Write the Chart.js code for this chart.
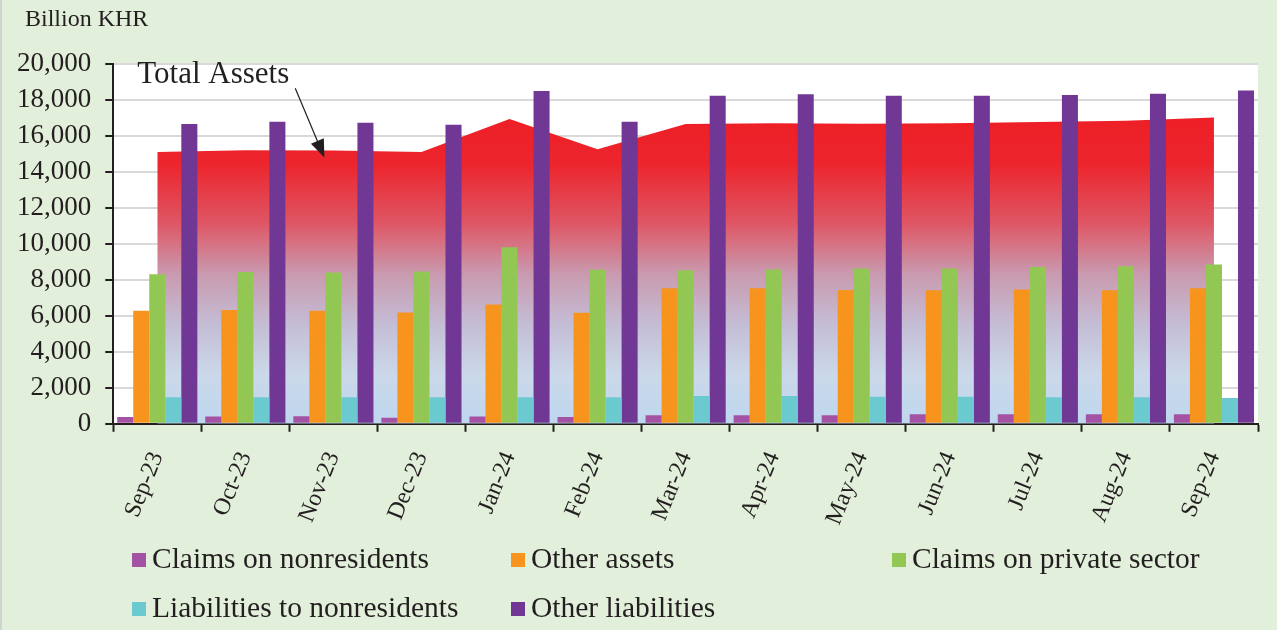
<!DOCTYPE html>
<html lang="en">
<head>
  <meta charset="UTF-8">
  <title>Total Assets and components</title>
  <style>
    body { margin: 0; background: #E2EFDA; font-family: "Liberation Serif", "Times New Roman", serif; }
    #wrap { position: relative; width: 1277px; height: 630px; border-left: 2px solid #D0D4CC; box-sizing: border-box; }
    #unit { position: absolute; left: 23px; top: 5px; font-size: 24px; color: #231F20; }
    #legend { position: absolute; left: 0; top: 538px; width: 1277px; }
    .item { position: absolute; font-size: 29.5px; color: #231F20; white-space: nowrap; line-height: 40px; }
    .item span.box { display: inline-block; width: 14px; height: 14px; margin-right: 6px; vertical-align: 1px; }
  </style>
  <script src="https://cdn.jsdelivr.net/npm/chart.js"></script>
</head>
<body>
<div id="wrap">
  <canvas id="myChart" width="1275" height="630"></canvas>
  <div id="unit">Billion KHR</div>
  <div id="legend"></div>
</div>
<script>
  // months
  const labels = ['Sep-23','Oct-23','Nov-23','Dec-23','Jan-24','Feb-24','Mar-24','Apr-24','May-24','Jun-24','Jul-24','Aug-24','Sep-24'];

  // billion KHR
  const totalAssets      = [15110, 15200, 15190, 15110, 16940, 15260, 16670, 16700, 16680, 16710, 16770, 16840, 17030];
  const claimsNonres     = [380, 400, 420, 330, 400, 380, 480, 480, 480, 530, 530, 530, 530];
  const otherAssets      = [6280, 6320, 6280, 6190, 6630, 6170, 7530, 7530, 7440, 7420, 7470, 7420, 7530];
  const claimsPrivate    = [8310, 8430, 8410, 8460, 9810, 8560, 8540, 8580, 8630, 8630, 8710, 8760, 8860];
  const liabNonres       = [1480, 1480, 1480, 1480, 1480, 1480, 1540, 1540, 1500, 1500, 1480, 1480, 1430];
  const otherLiab        = [16660, 16790, 16730, 16620, 18500, 16790, 18240, 18320, 18240, 18240, 18280, 18350, 18520];

  const yTicks = [0, 2000, 4000, 6000, 8000, 10000, 12000, 14000, 16000, 18000, 20000];

  const font = '"Liberation Serif", "Times New Roman", serif';
  const ctx = document.getElementById('myChart').getContext('2d');

  function areaFill(c) {
    const ch = c.chart;
    const a = ch.chartArea;
    if (!a) return '#EE1F26';
    const y = ch.scales.y;
    const g = ch.ctx.createLinearGradient(0, y.getPixelForValue(17000), 0, a.bottom);
    g.addColorStop(0, '#EE1F26');
    g.addColorStop(0.15, '#EC252D');
    g.addColorStop(0.34, '#DF5563');
    g.addColorStop(0.51, '#C99AAF');
    g.addColorStop(0.67, '#C4BCD4');
    g.addColorStop(0.84, '#CBD8EA');
    g.addColorStop(1, '#BED7EE');
    return g;
  }

  // white plot area
  const plotBg = {
    id: 'plotBg',
    beforeDraw(chart) {
      const a = chart.chartArea;
      chart.ctx.save();
      chart.ctx.fillStyle = '#FFFFFF';
      chart.ctx.fillRect(a.left, a.top, a.right - a.left, a.bottom - a.top);
      chart.ctx.restore();
    }
  };

  // "Total Assets" label with arrow
  const note = {
    id: 'note',
    afterDatasetsDraw(chart) {
      const x = chart.scales.x, y = chart.scales.y, c = chart.ctx;
      const tx = x.left + 24, ty = y.getPixelForValue(19400);
      c.save();
      c.font = '31px ' + font;
      c.fillStyle = '#231F20';
      c.textBaseline = 'middle';
      c.fillText('Total Assets', tx, ty);
      const x0 = tx + 158, y0 = y.getPixelForValue(18650);
      const x1 = (x.getPixelForValue(1) + x.getPixelForValue(2)) / 2 + 35, y1 = y.getPixelForValue(14800);
      const ang = Math.atan2(y1 - y0, x1 - x0);
      c.strokeStyle = '#231F20';
      c.lineWidth = 1.2;
      c.beginPath(); c.moveTo(x0, y0); c.lineTo(x1 - 12 * Math.cos(ang), y1 - 12 * Math.sin(ang)); c.stroke();
      c.beginPath();
      c.moveTo(x1, y1);
      c.lineTo(x1 - 18 * Math.cos(ang) + 7 * Math.sin(ang), y1 - 18 * Math.sin(ang) - 7 * Math.cos(ang));
      c.lineTo(x1 - 18 * Math.cos(ang) - 7 * Math.sin(ang), y1 - 18 * Math.sin(ang) + 7 * Math.cos(ang));
      c.closePath(); c.fill();
      c.restore();
    }
  };

  const bars = [
    { label: 'Claims on nonresidents', data: claimsNonres, color: '#A453A4' },
    { label: 'Other assets', data: otherAssets, color: '#F7941D' },
    { label: 'Claims on private sector', data: claimsPrivate, color: '#92C753' },
    { label: 'Liabilities to nonresidents', data: liabNonres, color: '#6BCAD0' },
    { label: 'Other liabilities', data: otherLiab, color: '#703795' }
  ];

  const datasets = bars.map(b => ({
    type: 'bar',
    label: b.label,
    data: b.data,
    backgroundColor: b.color,
    borderWidth: 0,
    barPercentage: 1,
    categoryPercentage: 0.91,
    order: 1
  }));
  datasets.push({
    type: 'line',
    label: 'Total Assets',
    data: totalAssets,
    fill: 'origin',
    backgroundColor: areaFill,
    borderWidth: 0,
    pointRadius: 0,
    tension: 0,
    order: 10
  });

  const myChart = new Chart(ctx, {
    type: 'bar',
    data: { labels: labels, datasets: datasets },
    options: {
      responsive: false,
      animation: false,
      devicePixelRatio: 1,
      layout: { padding: { left: 1, right: 19, top: 64, bottom: 85 } },
      plugins: { legend: { display: false }, tooltip: { enabled: false } },
      scales: {
        x: {
          offset: true,
          grid: { drawOnChartArea: false, tickLength: 8, tickColor: '#231F20', tickWidth: 2, offset: true },
          border: { color: '#231F20', width: 2 },
          ticks: { color: '#231F20', font: { family: font, size: 24 }, maxRotation: 68, minRotation: 68, padding: 16, autoSkip: false }
        },
        y: {
          min: 0, max: 20000,
          afterBuildTicks(s) { s.ticks = yTicks.map(v => ({ value: v })); },
          grid: { color: '#D9D9D9', lineWidth: 2, tickLength: 8, tickColor: '#231F20', tickWidth: 2 },
          border: { color: '#231F20', width: 2 },
          ticks: { color: '#231F20', font: { family: font, size: 27 }, padding: 14, autoSkip: false,
                   callback: v => v.toLocaleString('en-US') }
        }
      }
    },
    plugins: [plotBg, note]
  });

  // legend laid out as in the original: three columns, two rows
  const cols = [130, 509, 890];
  const legend = document.getElementById('legend');
  bars.forEach((b, i) => {
    const d = document.createElement('div');
    d.className = 'item';
    d.style.left = cols[i % 3] + 'px';
    d.style.top = (Math.floor(i / 3) * 49) + 'px';
    d.innerHTML = '<span class="box" style="background:' + b.color + '"></span>' + b.label;
    legend.appendChild(d);
  });
</script>
</body>
</html>
